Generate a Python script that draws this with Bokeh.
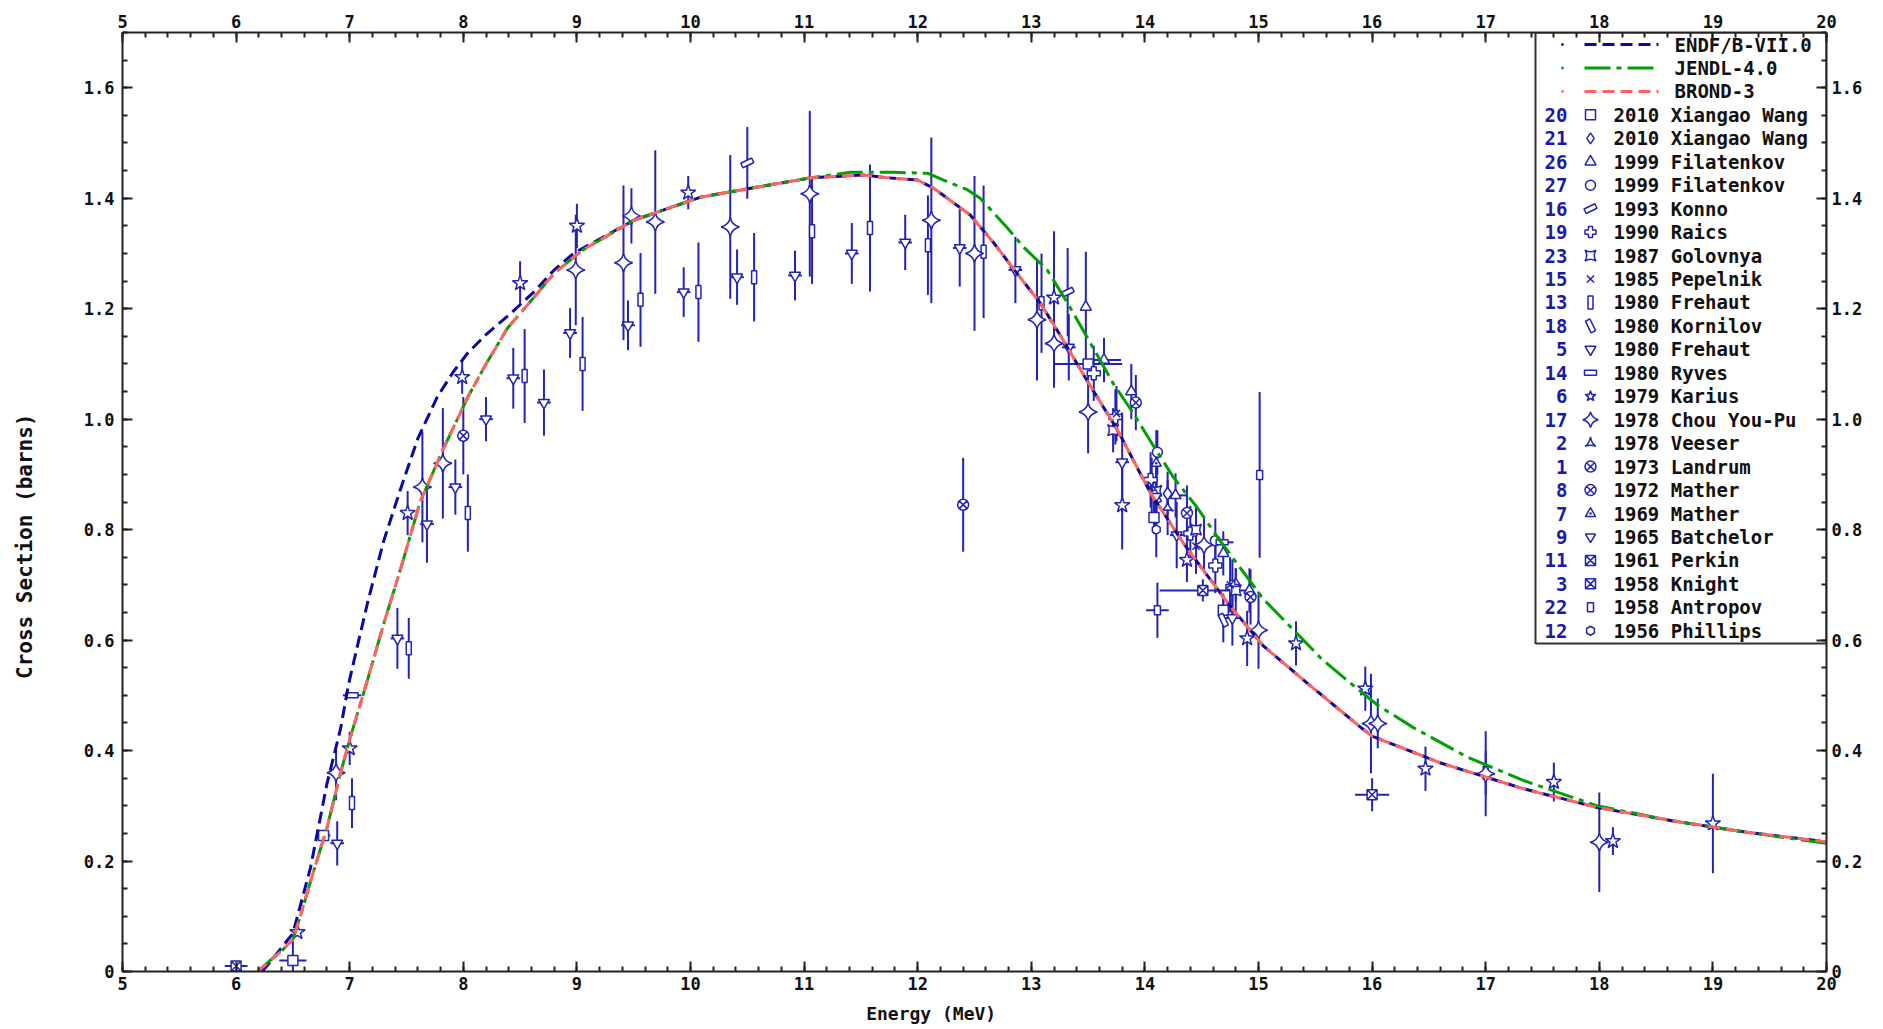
import numpy as np
from bokeh.plotting import figure
from bokeh.models import Range1d, LinearAxis, FixedTicker
from bokeh.embed import file_html
from bokeh.resources import INLINE
from bokeh.core.properties import value

# ---------------- evaluated curves ----------------
endf_e = [6.23, 6.35, 6.50, 6.655, 6.80, 6.92, 6.99, 7.08, 7.16, 7.30, 7.45, 7.60, 7.77, 7.91, 8.04,
          8.21, 8.41, 8.62, 8.80, 8.97, 9.50, 10.09, 10.53, 11.06, 11.52, 11.73, 12.00, 12.14, 12.46,
          12.67, 12.90, 13.08, 13.26, 13.49, 13.76, 14.05, 14.34, 14.73, 15.04, 15.40, 15.90, 16.00,
          16.25, 16.61, 17.33, 17.98, 18.64, 19.30, 20.00]
endf_xs = [0.0, 0.03, 0.069, 0.188, 0.34, 0.44, 0.52, 0.60, 0.67, 0.78, 0.875, 0.965, 1.04, 1.085, 1.12,
           1.155, 1.19, 1.23, 1.27, 1.30, 1.36, 1.402, 1.418, 1.437, 1.442, 1.437, 1.433, 1.418, 1.37,
           1.319, 1.257, 1.21, 1.15, 1.07, 0.98, 0.866, 0.775, 0.667, 0.59, 0.527, 0.442, 0.426,
           0.406, 0.377, 0.331, 0.297, 0.273, 0.252, 0.235]

jendl_e = [6.19, 6.30, 6.40, 6.50, 6.55, 6.68, 6.80, 6.92, 7.00, 7.16, 7.30, 7.45, 7.62, 7.81,
           8.04, 8.20, 8.39, 8.62, 8.80, 9.05, 9.50, 10.09, 10.53, 11.06, 11.41, 11.79, 12.09, 12.26,
           12.44, 12.55, 12.79, 12.93, 13.14, 13.32, 13.55, 13.72, 13.90, 14.08, 14.25, 14.46, 14.64,
           15.04, 15.31, 15.55, 15.81, 16.05, 16.36, 16.84, 17.33, 17.98, 18.64, 19.30, 20.00]
jendl_xs = [0.0, 0.02, 0.037, 0.058, 0.09, 0.18, 0.26, 0.36, 0.42, 0.53, 0.63, 0.73, 0.85, 0.94,
            1.04, 1.10, 1.165, 1.22, 1.264, 1.306, 1.36, 1.402, 1.418, 1.437, 1.447, 1.447, 1.445, 1.43,
            1.415, 1.40, 1.346, 1.312, 1.27, 1.21, 1.127, 1.065, 1.01, 0.95, 0.895, 0.84, 0.786,
            0.675, 0.618, 0.567, 0.522, 0.482, 0.442, 0.388, 0.346, 0.30, 0.273, 0.252, 0.232]

brond_e = [6.19, 6.30, 6.40, 6.50, 6.55, 6.68, 6.80, 6.92, 7.00, 7.16, 7.30, 7.45, 7.62, 7.81,
           8.04, 8.20, 8.39, 8.62, 8.80, 9.05, 9.50, 10.09, 10.53, 11.06, 11.52, 11.73, 12.00, 12.14,
           12.46, 12.67, 12.90, 13.08, 13.26, 13.49, 13.76, 14.05, 14.34, 14.73, 15.04, 15.40, 15.90,
           16.00, 16.25, 16.61, 17.33, 17.98, 18.64, 19.30, 20.00]
brond_xs = [0.0, 0.02, 0.037, 0.058, 0.09, 0.18, 0.26, 0.36, 0.42, 0.53, 0.63, 0.73, 0.85, 0.94,
            1.04, 1.10, 1.165, 1.22, 1.264, 1.306, 1.36, 1.402, 1.418, 1.437, 1.442, 1.437, 1.433, 1.418,
            1.37, 1.319, 1.257, 1.21, 1.15, 1.07, 0.98, 0.866, 0.775, 0.667, 0.59, 0.527, 0.442,
            0.426, 0.406, 0.377, 0.331, 0.297, 0.273, 0.252, 0.235]

# ---------------- experimental data (E MeV, xs barns, dxs, dE) ----------------
e20 = [6.50, 6.77, 13.50, 14.08, 14.69]
s20 = [0.020, 0.246, 1.100, 0.822, 0.654]
ds20 = [0.035, 0.0, 0.0, 0.03, 0.03]
de20 = [0.12, 0.06, 0.30, 0.0, 0.0]

e21 = [14.20, 14.80]
s21 = [0.865, 0.700]
ds21 = [0.04, 0.03]

e26 = [13.48, 13.64, 13.88, 14.27, 14.69, 14.92]
s26 = [1.203, 1.107, 1.050, 0.862, 0.757, 0.690]
ds26 = [0.10, 0.04, 0.05, 0.04, 0.04, 0.04]
de26 = [0.0, 0.15, 0.0, 0.10, 0.0, 0.0]

e27 = [14.11, 14.62]
s27 = [0.940, 0.780]
ds27 = [0.04, 0.04]

e16 = [10.50, 13.32]
s16 = [1.464, 1.230]
ds16 = [0.065, 0.08]

e19 = [13.55, 13.74, 14.05, 14.40, 14.62, 14.77]
s19 = [1.083, 1.004, 0.890, 0.793, 0.735, 0.696]
ds19 = [0.05, 0.05, 0.05, 0.05, 0.05, 0.05]

e23 = [13.72, 14.10, 14.45, 14.80]
s23 = [0.980, 0.870, 0.800, 0.690]
ds23 = [0.04, 0.04, 0.04, 0.04]

e15 = [13.75, 14.06, 14.45, 14.75]
s15 = [1.010, 0.880, 0.770, 0.700]
ds15 = [0.05, 0.05, 0.05, 0.05]

e13 = [7.02, 7.52, 8.04, 8.54, 9.05, 9.56, 10.07, 10.56, 11.07, 11.58, 12.09, 12.58, 13.09, 17.00]
s13 = [0.305, 0.585, 0.830, 1.078, 1.100, 1.216, 1.230, 1.257, 1.340, 1.346, 1.315, 1.303, 1.210, 0.360]
ds13 = [0.045, 0.055, 0.07, 0.085, 0.085, 0.085, 0.09, 0.08, 0.095, 0.115, 0.09, 0.12, 0.09, 0.04]

e18 = [14.10, 14.69]
s18 = [0.860, 0.636]
ds18 = [0.05, 0.04]

e5 = [6.89, 7.42, 7.68, 7.93, 8.20, 8.44, 8.71, 8.94, 9.45, 9.94, 10.41, 10.92, 11.42, 11.89, 12.37,
      12.86, 13.33, 13.80, 14.28, 14.77]
s5 = [0.232, 0.603, 0.810, 0.877, 1.000, 1.074, 1.030, 1.156, 1.170, 1.230, 1.257, 1.260, 1.300, 1.320,
      1.310, 1.270, 1.130, 0.922, 0.790, 0.640]
ds5 = [0.04, 0.055, 0.07, 0.05, 0.04, 0.055, 0.06, 0.045, 0.045, 0.045, 0.05, 0.045, 0.055, 0.05, 0.07,
       0.06, 0.06, 0.09, 0.06, 0.05]

e14 = [7.02, 14.68]
s14 = [0.500, 0.777]
de14 = [0.08, 0.10]

e6 = [6.54, 7.00, 7.51, 7.99, 8.50, 9.00, 9.98, 13.20, 13.80, 14.37, 14.90, 15.33, 15.94, 16.47, 17.60,
      18.12, 19.00]
s6 = [0.071, 0.404, 0.830, 1.076, 1.246, 1.350, 1.410, 1.220, 0.844, 0.745, 0.603, 0.594, 0.512, 0.367,
      0.343, 0.236, 0.268]
ds6 = [0.0, 0.03, 0.04, 0.03, 0.04, 0.04, 0.03, 0.12, 0.08, 0.04, 0.05, 0.04, 0.04, 0.04, 0.035, 0.025, 0.09]

e17 = [6.88, 7.64, 7.82, 8.99, 9.41, 9.48, 9.69, 10.35, 11.05, 12.12, 12.50, 13.05, 13.20, 13.50, 14.52,
       15.00, 15.99, 16.05, 17.00, 18.00]
s17 = [0.360, 0.877, 0.920, 1.270, 1.283, 1.368, 1.357, 1.348, 1.408, 1.360, 1.300, 1.180, 1.137, 1.013,
       0.772, 0.618, 0.449, 0.449, 0.358, 0.234]
ds17 = [0.05, 0.10, 0.10, 0.10, 0.14, 0.05, 0.13, 0.13, 0.15, 0.15, 0.14, 0.11, 0.08, 0.075, 0.05, 0.07,
        0.09, 0.045, 0.077, 0.09]

e2 = [14.20]
s2 = [0.840]
ds2 = [0.05]

e1 = [13.92, 14.37, 14.93]
s1 = [1.030, 0.830, 0.678]
ds1 = [0.05, 0.05, 0.05]

e8 = [8.00, 12.40]
s8 = [0.970, 0.845]
ds8 = [0.07, 0.085]

e7 = [14.10]
s7 = [0.920]
ds7 = [0.06]

e9 = [14.10]
s9 = [0.860]
ds9 = [0.06]

e11 = [14.51]
s11 = [0.690]
ds11 = [0.02]
de11 = [0.38]

e3 = [6.00, 16.00]
s3 = [0.010, 0.320]
ds3 = [0.0, 0.03]
de3 = [0.10, 0.15]

e22 = [14.11, 15.01]
s22 = [0.654, 0.899]
ds22 = [0.05, 0.15]
de22 = [0.10, 0.0]

e12 = [14.10]
s12 = [0.800]
ds12 = [0.05]

x_ticks = list(range(5, 21))
y_ticks = [0, 0.2, 0.4, 0.6, 0.8, 1.0, 1.2, 1.4, 1.6]
y_tick_labels = ["0", "0.2", "0.4", "0.6", "0.8", "1.0", "1.2", "1.4", "1.6"]

# ---------------- layout ----------------
W, H = 1883, 1029
LEFT, RIGHT, TOP, BOTTOM = 122, 57, 32, 58
X0, X1, Y0, Y1 = 5.0, 20.0, 0.0, 1.7
FW, FH = W - LEFT - RIGHT, H - TOP - BOTTOM

BLUE = "#2323b4"
NUM_BLUE = "#1a1aa8"
FONT = "DejaVu Sans Mono"
TXT = "#111111"
NBSP = "\u00a0"


def sx(px):
    return X0 + (px - LEFT) * (X1 - X0) / FW


def sy(py):
    return Y1 - (py - TOP) * (Y1 - Y0) / FH


p = figure(width=W, height=H, x_range=Range1d(X0, X1), y_range=Range1d(Y0, Y1),
           output_backend="svg", toolbar_location=None,
           min_border_left=LEFT, min_border_right=RIGHT, min_border_top=TOP, min_border_bottom=BOTTOM)
p.xgrid.visible = False
p.ygrid.visible = False
p.outline_line_color = None
p.background_fill_color = "white"
p.border_fill_color = "white"

p.add_layout(LinearAxis(), "above")
p.add_layout(LinearAxis(), "right")

x_minor = [round(5 + 0.2 * k, 3) for k in range(0, 76)]
y_minor = [round(0.05 * k, 3) for k in range(0, 35)]

for ax in p.xaxis:
    ax.ticker = FixedTicker(ticks=x_ticks, minor_ticks=x_minor)
for ax in p.yaxis:
    ax.ticker = FixedTicker(ticks=y_ticks, minor_ticks=y_minor)
    ax.major_label_overrides = dict(zip(y_ticks, y_tick_labels))

for ax in list(p.xaxis) + list(p.yaxis):
    ax.major_tick_in = 10
    ax.major_tick_out = 0
    ax.minor_tick_in = 5
    ax.minor_tick_out = 0
    ax.axis_line_width = 2
    ax.axis_line_color = "#222222"
    ax.major_tick_line_width = 2
    ax.major_tick_line_color = "#222222"
    ax.minor_tick_line_width = 2
    ax.minor_tick_line_color = "#222222"
    ax.major_label_text_font = FONT
    ax.major_label_text_font_style = "bold"
    ax.major_label_text_font_size = "17px"
    ax.major_label_text_color = TXT
    ax.major_label_standoff = 5
    ax.axis_label_text_font = FONT
    ax.axis_label_text_font_style = "bold"
    ax.axis_label_text_color = TXT
p.left[0].major_label_standoff = 8

# axis titles (trailing no-break spaces shift them off-centre as in the original)
p.below[0].axis_label = "Energy (MeV)" + NBSP * 8
p.below[0].axis_label_text_font_size = "18px"
p.below[0].axis_label_standoff = 10
p.left[0].axis_label = "Cross Section (barns)" + NBSP * 7
p.left[0].axis_label_text_font_size = "21px"
p.left[0].axis_label_standoff = 44

# marker spec: ("scatter", marker, size, angle) or ("rect", w, h, angle)
datasets = [
    ("20", "2010 Xiangao Wang", e20, s20, ds20, de20, ("scatter", "square", 10, 0)),
    ("21", "2010 Xiangao Wang", e21, s21, ds21, None, ("scatter", "diamond", 13, 0)),
    ("26", "1999 Filatenkov", e26, s26, ds26, de26, ("scatter", "triangle", 11, 0)),
    ("27", "1999 Filatenkov", e27, s27, ds27, None, ("scatter", "circle", 10, 0)),
    ("16", "1993 Konno", e16, s16, ds16, None, ("rect", 12, 5, 0.45)),
    ("19", "1990 Raics", e19, s19, ds19, None, ("scatter", "plus", 13, 0)),
    ("23", "1987 Golovnya", e23, s23, ds23, None, ("scatter", "square_pin", 11, 0)),
    ("15", "1985 Pepelnik", e15, s15, ds15, None, ("scatter", "x", 10, 0)),
    ("13", "1980 Frehaut", e13, s13, ds13, None, ("rect", 5, 13, 0)),
    ("18", "1980 Kornilov", e18, s18, ds18, None, ("rect", 5, 13, 0.45)),
    ("5", "1980 Frehaut", e5, s5, ds5, [0.06] * len(e5), ("scatter", "inverted_triangle", 11, 0)),
    ("14", "1980 Ryves", e14, s14, None, de14, ("rect", 12, 5, 0)),
    ("6", "1979 Karius", e6, s6, ds6, None, ("scatter", "star", 16, 0)),
    ("17", "1978 Chou You-Pu", e17, s17, ds17, None, ("scatter", "square_pin", 13, np.pi / 4)),
    ("2", "1978 Veeser", e2, s2, ds2, None, ("scatter", "triangle_pin", 12, 0)),
    ("1", "1973 Landrum", e1, s1, ds1, None, ("scatter", "circle_x", 11, 0)),
    ("8", "1972 Mather", e8, s8, ds8, None, ("scatter", "circle_x", 11, 0)),
    ("7", "1969 Mather", e7, s7, ds7, None, ("scatter", "triangle_dot", 10, 0)),
    ("9", "1965 Batchelor", e9, s9, ds9, None, ("scatter", "inverted_triangle", 10, 0)),
    ("11", "1961 Perkin", e11, s11, ds11, de11, ("scatter", "square_x", 10, 0)),
    ("3", "1958 Knight", e3, s3, ds3, de3, ("scatter", "square_x", 10, 0)),
    ("22", "1958 Antropov", e22, s22, ds22, de22, ("rect", 6, 9, 0)),
    ("12", "1956 Phillips", e12, s12, ds12, None, ("scatter", "hex", 9, np.pi / 2)),
]


def draw_marker(xs, ys, spec):
    if spec[0] == "scatter":
        _, m, size, ang = spec
        p.scatter(xs, ys, marker=m, size=size, angle=ang, fill_color="white",
                  line_color=BLUE, line_width=1.5)
    else:
        _, w, h, ang = spec
        p.rect(xs, ys, width=w, height=h, angle=ang, width_units="screen", height_units="screen",
               fill_color="white", line_color=BLUE, line_width=1.5)


# error bars first, then markers
for num, lab, e, s, ds, de, spec in datasets:
    e = np.array(e)
    s = np.array(s)
    if ds is not None:
        d = np.array(ds)
        p.segment(e, s - d, e, s + d, line_color=BLUE, line_width=2)
    if de is not None:
        d = np.array(de)
        p.segment(e - d, s, e + d, s, line_color=BLUE, line_width=2)
for num, lab, e, s, ds, de, spec in datasets:
    draw_marker(e, s, spec)

# curves
p.line(endf_e, endf_xs, line_color="#0a0a9e", line_width=3, line_dash="12 6")
p.line(jendl_e, jendl_xs, line_color="#00a000", line_width=3, line_dash="26 6 5 6")
p.line(brond_e, brond_xs, line_color="#ff6262", line_width=3, line_dash="12 6")

# ---------------- legend (drawn in the frame) ----------------
p.quad(left=[sx(1535)], right=[X1], top=[Y1], bottom=[sy(643)],
       fill_color="white", line_color="#333333", line_width=2)

ROW0, DROW = 44, 23.45
curves_leg = [("ENDF/B-VII.0", "#0a0a9e", "12 6"), ("JENDL-4.0", "#00a000", "26 6 5 6"),
              ("BROND-3", "#ff6262", "12 6")]
for i, (lab, col, dash) in enumerate(curves_leg):
    yy = sy(ROW0 + i * DROW)
    p.line([sx(1584), sx(1658)], [yy, yy], line_color=col, line_width=3, line_dash=dash)
    p.scatter([sx(1562)], [yy], marker="circle", size=2, line_color=col, fill_color=col)
    p.text([sx(1674)], [yy], text=[lab], text_font=value(FONT), text_font_style="bold",
           text_font_size=value("19px"), text_align="left", text_baseline="middle",
           text_color=TXT)

for j, (num, lab, e, s, ds, de, spec) in enumerate(datasets):
    yy = sy(ROW0 + (j + 3) * DROW)
    p.text([sx(1567)], [yy], text=[num], text_font=value(FONT), text_font_style="bold",
           text_font_size=value("19px"), text_align="right", text_baseline="middle",
           text_color=NUM_BLUE)
    if spec[0] == "scatter":
        lspec = ("scatter", spec[1], min(spec[2], 11), spec[3])
    else:
        lspec = spec
    draw_marker([sx(1590)], [yy], lspec)
    p.text([sx(1613)], [yy], text=[lab], text_font=value(FONT), text_font_style="bold",
           text_font_size=value("19px"), text_align="left", text_baseline="middle",
           text_color=TXT)

open("out.html", "w").write(file_html(p, INLINE))
